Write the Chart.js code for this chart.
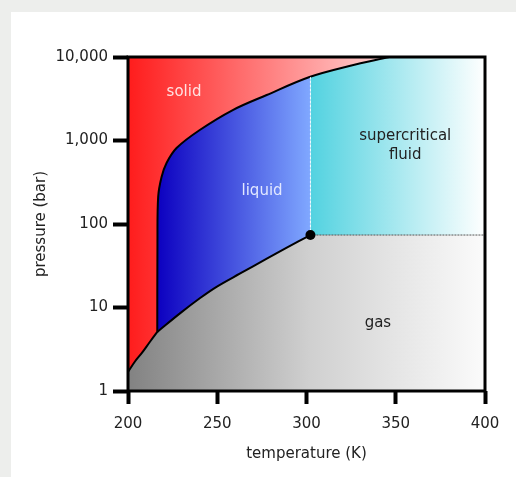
<!DOCTYPE html>
<html>
<head>
<meta charset="utf-8">
<script src="https://cdn.jsdelivr.net/npm/chart.js"></script>
<style>
  html, body { margin: 0; padding: 0; background: #edeeec; }
  #frame { position: absolute; left: 11px; top: 12px; width: 505px; height: 465px; background: #fff; }
  #frame canvas { display: block; }
</style>
</head>
<body>
<div id="frame"><canvas id="phase-chart" width="505" height="465"></canvas></div>
<script>
// 축 눈금
const xTicks = [200, 250, 300, 350, 400];
const yTicks = [1, 10, 100, 1000, 10000];

// 경계선 (그림에서 읽은 값, 각 곡선은 삼중점/임계점에서 만남)
const sublimationT = [200, 204, 208, 212, 216.4];
const sublimationP = [1.69, 2.27, 2.9, 3.81, 5.1];

const meltT = [216.4, 216.5, 216.9, 218.8, 221.6, 227.2, 240.2, 258.7, 277.7, 301.7, 324, 346.4];
const meltP = [5.1, 59, 211, 365, 538, 813, 1336, 2318, 3508, 5758, 7800, 10000];

const vaporT = [216.4, 229.1, 240.2, 249.6, 262.6, 277.5, 288.7, 302.2];
const vaporP = [5.1, 8.5, 12.9, 17.7, 25.4, 38.1, 51.6, 73.8];

const criticalT = 302.2;
const criticalP = 73.8;
const meltAtCritical = 5800;
const tMax = 400;

// 영역 이름
const regionNames = ['solid', 'liquid', ['supercritical', 'fluid'], 'gas'];
const regionT = [231.4, 275.1, 355.3, 340];
const regionP = [3811, 250, 864, 6.5];
const regionColors = ['#ffe2e2', '#e2e8ff', '#222', '#222'];

const FONT = "'DejaVu Sans', sans-serif";

function toPoints(xs, ys) {
  return xs.map((x, i) => ({ x: x, y: ys[i] }));
}

/**
 * 가로 그라데이션 (온도 값 기준 색 정지점)
 */
function hGradient(chart, stops) {
  const { ctx, chartArea, scales } = chart;
  if (!chartArea) return 'rgba(0,0,0,0)';
  const x0 = scales.x.getPixelForValue(stops[0][0]);
  const x1 = scales.x.getPixelForValue(stops[stops.length - 1][0]);
  const g = ctx.createLinearGradient(x0, 0, x1, 0);
  stops.forEach(([t, c]) => {
    g.addColorStop((scales.x.getPixelForValue(t) - x0) / (x1 - x0), c);
  });
  return g;
}

// 곡선을 이어 붙임 (만나는 점은 양쪽 곡선에 모두 남겨 꺾이도록)
const superT = [criticalT, tMax];
const superP = [criticalP, criticalP];
const solidLine = toPoints(sublimationT.concat(meltT), sublimationP.concat(meltP));
const liquidLine = toPoints(vaporT, vaporP);
const superLine = toPoints(superT, superP);
const gasLine = toPoints(
  sublimationT.concat(vaporT, superT),
  sublimationP.concat(vaporP, superP)
);

const regionLabels = {
  id: 'regionLabels',
  afterDatasetsDraw(chart) {
    const { ctx, scales: { x, y } } = chart;
    ctx.save();
    ctx.font = '15px ' + FONT;
    ctx.textAlign = 'center';
    ctx.textBaseline = 'middle';
    regionNames.forEach((name, i) => {
      const lines = [].concat(name);
      const cx = x.getPixelForValue(regionT[i]);
      const cy = y.getPixelForValue(regionP[i]);
      ctx.fillStyle = regionColors[i];
      lines.forEach((line, j) => {
        ctx.fillText(line, cx, cy + (j - (lines.length - 1) / 2) * 18.5);
      });
    });
    ctx.restore();
  }
};

const plotFrame = {
  id: 'plotFrame',
  afterDatasetsDraw(chart) {
    const { ctx, chartArea: a } = chart;
    ctx.save();
    ctx.strokeStyle = '#000';
    ctx.lineWidth = 3;
    ctx.strokeRect(a.left, a.top, a.right - a.left, a.bottom - a.top);
    ctx.restore();
  }
};

new Chart(document.getElementById('phase-chart'), {
  type: 'line',
  data: {
    datasets: [
      {
        // 임계점
        data: [{ x: criticalT, y: criticalP }],
        showLine: false,
        pointRadius: 5,
        pointBackgroundColor: '#000',
        pointBorderWidth: 0
      },
      {
        data: toPoints([criticalT, criticalT], [criticalP, meltAtCritical]),
        borderColor: 'rgba(255,255,255,0.85)',
        borderWidth: 1,
        borderDash: [2, 2],
        pointRadius: 0
      },
      {
        // 고체
        data: solidLine,
        borderColor: '#000',
        borderWidth: 2,
        tension: 0.35,
        pointRadius: 0,
        fill: 'end',
        backgroundColor: (c) => hGradient(c.chart, [[200, '#ff1c1c'], [347, '#ffd6d6']])
      },
      {
        // 액체
        data: liquidLine,
        borderColor: '#000',
        borderWidth: 2,
        tension: 0.35,
        pointRadius: 0,
        fill: 'end',
        backgroundColor: (c) => hGradient(c.chart, [[216.4, '#0c00c0'], [302.2, '#80a8ff']])
      },
      {
        // 초임계 유체
        data: superLine,
        borderColor: '#555',
        borderWidth: 1,
        borderDash: [2, 1],
        pointRadius: 0,
        fill: 'end',
        backgroundColor: (c) => hGradient(c.chart, [[302.2, '#52d2e0'], [400, '#ffffff']])
      },
      {
        // 기체
        data: gasLine,
        borderWidth: 0,
        tension: 0.35,
        pointRadius: 0,
        fill: 'start',
        backgroundColor: (c) => hGradient(c.chart, [[200, '#828282'], [302.2, '#d0d0d0'], [400, '#fbfbfb']])
      }
    ]
  },
  options: {
    responsive: false,
    animation: false,
    layout: { padding: { top: 45, right: 31, left: 0, bottom: 0 } },
    scales: {
      x: {
        type: 'linear',
        min: 200,
        max: 400,
        afterBuildTicks: (scale) => { scale.ticks = xTicks.map(v => ({ value: v })); },
        afterFit: (scale) => { scale.height = 86; },
        border: { display: false },
        grid: { drawOnChartArea: false, tickLength: 13, tickWidth: 4, tickColor: '#000' },
        ticks: { color: '#222', padding: 11, font: { family: FONT, size: 15 } },
        title: {
          display: true,
          text: 'temperature (K)',
          color: '#222',
          font: { family: FONT, size: 15 },
          padding: { top: 0, bottom: 14 }
        }
      },
      y: {
        type: 'logarithmic',
        min: 1,
        max: 10000,
        afterBuildTicks: (scale) => { scale.ticks = yTicks.map(v => ({ value: v })); },
        afterFit: (scale) => { scale.width = 117; },
        border: { display: false },
        grid: { drawOnChartArea: false, tickLength: 15, tickWidth: 4, tickColor: '#000' },
        ticks: {
          color: '#222',
          padding: 5,
          font: { family: FONT, size: 15 },
          callback: (v) => v.toLocaleString('en-US')
        },
        title: {
          display: true,
          text: 'pressure (bar)',
          color: '#222',
          font: { family: FONT, size: 15 },
          padding: { top: 21, bottom: 0 }
        }
      }
    },
    plugins: {
      legend: { display: false },
      tooltip: { enabled: false },
      filler: { drawTime: 'beforeDatasetsDraw' }
    }
  },
  plugins: [regionLabels, plotFrame]
});
</script>
</body>
</html>
